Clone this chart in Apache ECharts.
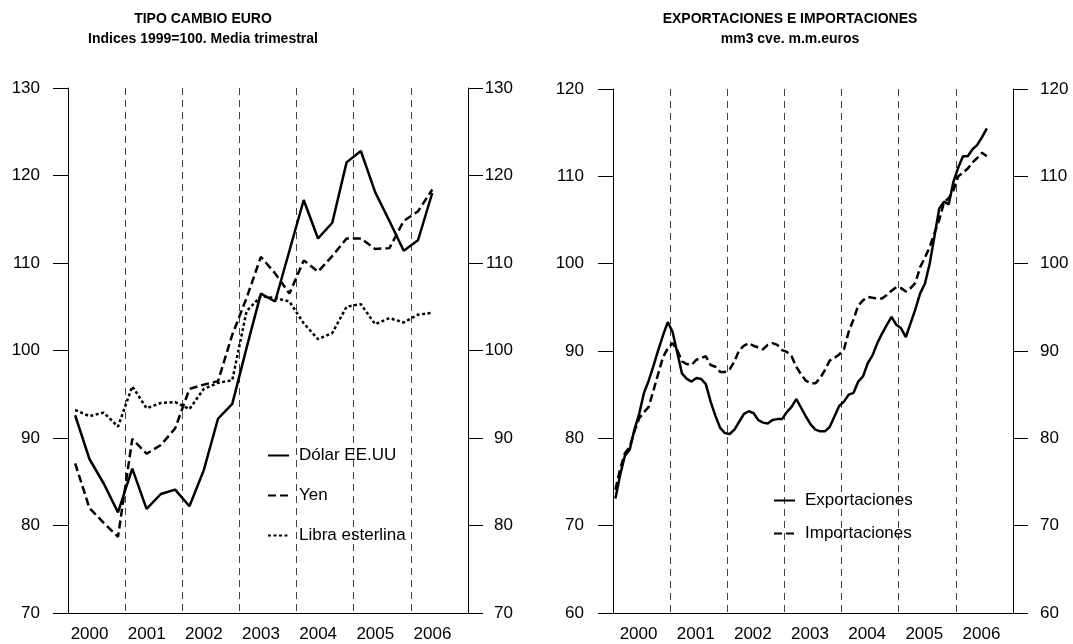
<!DOCTYPE html>
<html>
<head>
<meta charset="utf-8">
<script src="https://cdn.jsdelivr.net/npm/echarts@6/dist/echarts.min.js"></script>
<style>
  html, body { margin: 0; padding: 0; background: #fff; }
  #chart { width: 1073px; height: 644px; }
</style>
</head>
<body>
<div id="chart"></div>
<script>
// años del eje X (los dos paneles)
const years = ['2000', '2001', '2002', '2003', '2004', '2005', '2006']

// Tipo de cambio del euro, media trimestral (2000T1 - 2006T2)
const dolar = [92.6, 87.6, 84.8, 81.5, 86.5, 81.9, 83.6, 84.1, 82.2, 86.3, 92.2, 93.9, 100.3,
  106.5, 105.6, 111.4, 117.2, 112.8, 114.6, 121.5, 122.8, 118.1, 114.8, 111.4, 112.6, 118.0]
const yen = [87.1, 82.0, 80.3, 78.7, 89.9, 88.2, 89.2, 91.1, 95.6, 96.1, 96.5, 101.8, 106.0,
  110.7, 108.8, 106.5, 110.3, 109.0, 110.8, 112.8, 112.8, 111.6, 111.7, 114.8, 115.9, 118.4]
const libra = [93.2, 92.5, 92.9, 91.3, 95.9, 93.4, 94.0, 94.1, 93.3, 95.6, 96.3, 96.6, 104.5,
  106.2, 106.0, 105.6, 103.1, 101.3, 102.0, 105.0, 105.3, 103.0, 103.7, 103.2, 104.1, 104.3]

// Exportaciones e importaciones, mm3 cve, mensual (ene 2000 - jul 2006)
const exportaciones = [
  73.1, 75.8, 78.0, 78.7, 81.0, 82.8, 85.2, 86.6, 88.3, 90.1, 91.8, 93.3,
  92.2, 89.8, 87.4, 86.8, 86.5, 86.9, 86.8, 86.2, 84.2, 82.6, 81.2, 80.6,
  80.5, 81.0, 81.9, 82.8, 83.1, 82.9, 82.1, 81.8, 81.7, 82.1, 82.2, 82.2,
  83.0, 83.6, 84.5, 83.5, 82.5, 81.6, 81.0, 80.8, 80.8, 81.3, 82.5, 83.7,
  84.2, 85.0, 85.2, 86.5, 87.1, 88.6, 89.5, 90.9, 92.0, 93.0, 93.9, 93.0,
  92.6, 91.6, 93.2, 94.8, 96.6, 97.7, 100.0, 103.1, 106.3, 107.1, 106.8, 109.4,
  111.0, 112.3, 112.3, 113.1, 113.6, 114.5, 115.5]
const importaciones = [
  74.1, 76.5, 78.3, 79.0, 80.8, 82.3, 83.0, 83.6, 85.5, 87.4, 89.3, 90.3,
  90.9, 90.1, 88.8, 88.5, 88.4, 89.0, 89.2, 89.4, 88.4, 88.2, 87.6, 87.6,
  87.9, 88.8, 90.1, 90.6, 90.9, 90.6, 90.4, 90.2, 90.7, 90.9, 90.7, 90.1,
  89.9, 89.4, 88.2, 87.3, 86.6, 86.3, 86.3, 86.9, 87.8, 88.9, 89.2, 89.6,
  90.2, 92.2, 93.6, 95.2, 95.8, 96.2, 96.1, 96.0, 96.0, 96.4, 96.9, 97.3,
  97.2, 96.8, 97.2, 97.8, 99.6, 100.7, 101.9, 103.5, 105.0, 107.0, 107.5, 108.4,
  110.0, 110.4, 110.9, 111.6, 112.1, 112.7, 112.3]

const FONT = 'Liberation Sans, Arial, sans-serif'

// punto en el centro de cada periodo
const toPoints = arr => arr.map((v, i) => [i + 0.5, v])

const valueX = (grid, max) => ({
  type: 'value', gridIndex: grid, min: 0, max: max, position: 'bottom',
  axisLine: { show: true, onZero: false, lineStyle: { color: '#000', width: 1 } },
  axisTick: { show: false }, axisLabel: { show: false }, splitLine: { show: false },
})

const yearX = (grid, pad) => ({
  type: 'category', gridIndex: grid, data: years, boundaryGap: true, position: 'bottom',
  axisLine: { show: false }, axisTick: { show: false },
  axisLabel: { interval: 0, margin: 13, color: '#000', fontSize: 17, fontFamily: FONT, padding: [0, pad, 0, 0] },
  splitLine: { show: true, interval: 0, lineStyle: { color: '#444', width: 1, type: [7, 5] } },
})

// etiquetas del eje Y; 'rw' = ancho de caja con texto alineado a la derecha
const yAx = (grid, pos, min, max, margin, rw) => ({
  type: 'value', gridIndex: grid, position: pos, min: min, max: max, interval: 10,
  axisLine: { show: true, lineStyle: { color: '#000', width: 1 } },
  axisTick: { show: true, inside: false, length: 15, lineStyle: { color: '#000' } },
  axisLabel: rw
    ? { margin: margin, color: '#000', fontSize: 17, fontFamily: FONT,
        formatter: '{a|{value}}', rich: { a: { width: rw, align: 'right', fontSize: 17, fontFamily: FONT, color: '#000' } } }
    : { margin: margin, color: '#000', fontSize: 17, fontFamily: FONT },
  splitLine: { show: false },
})

const line = (name, data, xi, yi, type) => ({
  name: name, type: 'line', data: data, xAxisIndex: xi, yAxisIndex: yi,
  symbol: 'none', animation: false, color: '#000',
  lineStyle: { color: '#000', width: 2.5, type: type },
})

const legendText = { fontSize: 17, color: '#000', fontFamily: FONT, padding: [0, 0, 0, 5] }

const chart = echarts.init(document.getElementById('chart'))
chart.setOption({
  backgroundColor: '#fff',
  animation: false,
  title: [
    {
      text: 'TIPO CAMBIO EURO\nIndices 1999=100. Media trimestral',
      left: 198, top: 4, textAlign: 'center',
      textStyle: { fontSize: 14, fontWeight: 'bold', color: '#000', fontFamily: FONT, lineHeight: 20 },
    },
    {
      text: 'EXPORTACIONES E IMPORTACIONES\nmm3 cve. m.m.euros',
      left: 785, top: 4, textAlign: 'center',
      textStyle: { fontSize: 14, fontWeight: 'bold', color: '#000', fontFamily: FONT, lineHeight: 20 },
    },
  ],
  legend: [
    {
      data: ['Dólar EE.UU', 'Yen', 'Libra esterlina'],
      orient: 'vertical', left: 262, top: 442, itemWidth: 21, itemHeight: 14, itemGap: 23,
      itemStyle: { color: 'transparent', opacity: 0, borderWidth: 0 },
      textStyle: legendText,
    },
    {
      data: ['Exportaciones', 'Importaciones'],
      orient: 'vertical', left: 768, top: 487, itemWidth: 21, itemHeight: 14, itemGap: 16,
      itemStyle: { color: 'transparent', opacity: 0, borderWidth: 0 },
      textStyle: legendText,
    },
  ],
  grid: [
    { left: 68, right: 605, top: 88, bottom: 31 },
    { left: 613, right: 60, top: 89, bottom: 31 },
  ],
  xAxis: [
    valueX(0, 28), yearX(0, 14),
    valueX(1, 84), yearX(1, 6),
  ],
  yAxis: [
    yAx(0, 'left', 70, 130, 28),
    yAx(0, 'right', 70, 130, 20, 25),
    yAx(1, 'left', 60, 120, 29),
    yAx(1, 'right', 60, 120, 27),
  ],
  series: [
    line('Dólar EE.UU', toPoints(dolar), 0, 0, 'solid'),
    line('Yen', toPoints(yen), 0, 0, [8, 4]),
    line('Libra esterlina', toPoints(libra), 0, 0, [3, 2.5]),
    line('Exportaciones', toPoints(exportaciones), 2, 2, 'solid'),
    line('Importaciones', toPoints(importaciones), 2, 2, [8, 4]),
  ],
})
</script>
</body>
</html>
